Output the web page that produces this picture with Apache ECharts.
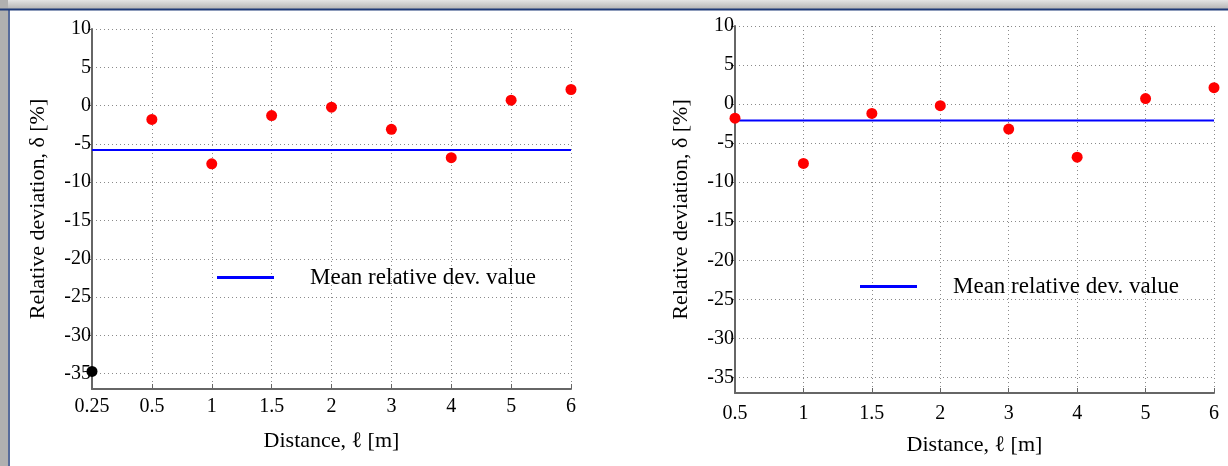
<!DOCTYPE html>
<html lang="en">
<head>
    <meta charset="UTF-8">
    <title>Relative deviation vs distance</title>
    <script src="https://cdn.jsdelivr.net/npm/echarts@6/dist/echarts.min.js"></script>
    <style>
        html, body { margin: 0; padding: 0; background: #fff; }
        #chart { width: 1228px; height: 466px; }
    </style>
</head>
<body>
    <div id="chart"></div>
    <script>
        // left panel: all distances, first point (0.25 m) is the outlier
        const leftDistances = ['0.25', '0.5', '1', '1.5', '2', '3', '4', '5', '6'];
        const leftDeviation = [-34.7, -1.8, -7.6, -1.3, -0.2, -3.1, -6.8, 0.7, 2.1];
        const leftMean = -5.8;

        // right panel: outlier removed
        const rightDistances = ['0.5', '1', '1.5', '2', '3', '4', '5', '6'];
        const rightDeviation = [-1.8, -7.6, -1.2, -0.2, -3.2, -6.8, 0.7, 2.1];
        const rightMean = -2.1;

        const yTicks = [-35, -30, -25, -20, -15, -10, -5, 0, 5, 10];
        const meanName = 'Mean relative dev. value';

        const font = 'Liberation Serif';

        function xAxisFor(gridIndex, cats, labelMargin) {
            return {
                type: 'category',
                gridIndex: gridIndex,
                data: cats,
                boundaryGap: false,
                name: 'Distance, ℓ [m]',
                nameLocation: 'middle',
                nameGap: 41,
                nameTextStyle: { fontFamily: font, fontSize: 22, color: '#000' },
                axisLine: { onZero: false, lineStyle: { color: '#666', width: 2 } },
                axisTick: { inside: true, length: 5, lineStyle: { color: '#666' } },
                axisLabel: { fontFamily: font, fontSize: 20, color: '#000', margin: labelMargin, interval: 0 },
                splitLine: { show: true, interval: 0, lineStyle: { color: '#8a8a8a', type: [1, 3] } }
            };
        }

        function yAxisFor(gridIndex) {
            return {
                type: 'value',
                gridIndex: gridIndex,
                min: -37,
                max: 10,
                name: 'Relative deviation, δ [%]',
                nameLocation: 'middle',
                nameGap: 43,
                nameTextStyle: { fontFamily: font, fontSize: 22, color: '#000' },
                axisLine: { show: true, onZero: false, lineStyle: { color: '#666', width: 2 } },
                axisTick: { show: true, length: 4, customValues: yTicks, lineStyle: { color: '#666' } },
                axisLabel: { fontFamily: font, fontSize: 20, color: '#000', margin: 1, customValues: yTicks },
                splitLine: { show: true, lineStyle: { color: '#8a8a8a', type: [1, 3] } }
            };
        }

        function legendFor(left, top) {
            return {
                left: left,
                top: top,
                data: [meanName],
                icon: 'rect',
                itemWidth: 57,
                itemHeight: 3,
                selectedMode: false,
                itemStyle: { color: '#0000ff' },
                textStyle: { fontFamily: font, fontSize: 23, color: '#000', padding: [0, 0, 0, 31] }
            };
        }

        const chart = echarts.init(document.getElementById('chart'));

        const option = {
            animation: false,
            backgroundColor: '#fff',
            graphic: [
                // screenshot frame
                {
                    type: 'rect', shape: { x: 0, y: 0, width: 1228, height: 9 },
                    style: {
                        fill: new echarts.graphic.LinearGradient(0, 0, 0, 1, [
                            { offset: 0, color: '#e4e4e4' },
                            { offset: 1, color: '#b4b4b4' }
                        ])
                    }, silent: true
                },
                { type: 'rect', shape: { x: 0, y: 0, width: 8, height: 466 }, style: { fill: '#b0b0b0' }, silent: true },
                { type: 'line', shape: { x1: 0, y1: 9.5, x2: 1228, y2: 9.5 }, style: { stroke: '#1f3a78', lineWidth: 2 }, silent: true },
                { type: 'line', shape: { x1: 9, y1: 9, x2: 9, y2: 466 }, style: { stroke: '#1f3a78', lineWidth: 1.5 }, silent: true }
            ],
            grid: [
                { left: 92, top: 29, width: 479, height: 360 },
                { left: 735, top: 26, width: 479, height: 367 }
            ],
            xAxis: [xAxisFor(0, leftDistances, 8), xAxisFor(1, rightDistances, 11)],
            yAxis: [yAxisFor(0), yAxisFor(1)],
            legend: [legendFor(212, 261), legendFor(855, 270)],
            series: [
                {
                    name: meanName,
                    type: 'line',
                    xAxisIndex: 0, yAxisIndex: 0,
                    data: leftDistances.map(() => leftMean),
                    showSymbol: false,
                    lineStyle: { color: '#0000ff', width: 2 },
                    itemStyle: { color: '#0000ff' },
                    z: 3
                },
                {
                    type: 'scatter',
                    xAxisIndex: 0, yAxisIndex: 0,
                    data: leftDeviation.map((v, i) => i === 0
                        ? { value: v, itemStyle: { color: '#000' } }
                        : v),
                    symbolSize: 11,
                    itemStyle: { color: '#ff0000', opacity: 1 },
                    z: 4
                },
                {
                    name: meanName,
                    type: 'line',
                    xAxisIndex: 1, yAxisIndex: 1,
                    data: rightDistances.map(() => rightMean),
                    showSymbol: false,
                    lineStyle: { color: '#0000ff', width: 2 },
                    itemStyle: { color: '#0000ff' },
                    z: 3
                },
                {
                    type: 'scatter',
                    xAxisIndex: 1, yAxisIndex: 1,
                    data: rightDeviation,
                    symbolSize: 11,
                    itemStyle: { color: '#ff0000', opacity: 1 },
                    z: 4
                }
            ]
        };

        chart.setOption(option);
    </script>
</body>
</html>
